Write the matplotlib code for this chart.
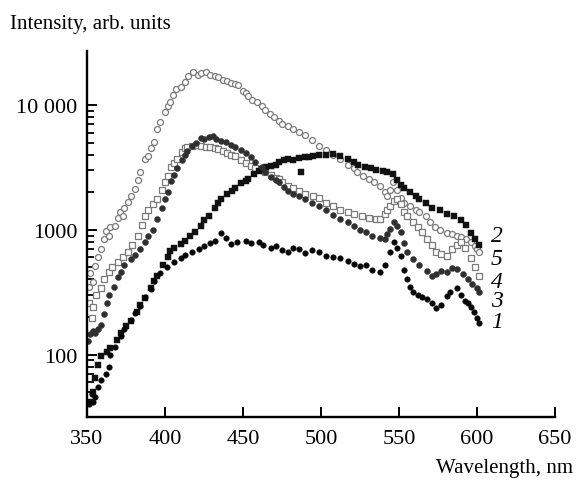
import matplotlib
matplotlib.use("Agg")
import matplotlib.pyplot as plt
from matplotlib.ticker import FixedLocator, NullFormatter

plt.rcParams['font.family'] = ['Liberation Serif', 'DejaVu Serif']

# ---- data (wavelength nm, intensity arb. units) ----
w1 = [351,353,354,355,357,359,362,364,365,368,372,374,378,381,384,387,391,393,397,401,406,410,413,417,422,425,429,432,436,439,442,446,452,455,460,463,468,471,475,479,482,486,490,494,499,503,508,512,517,521,525,529,533,538,541,544,547,549,551,553,555,557,559,562,565,568,571,574,577,581,583,587,590,592,594,596,598,600,601.5]
i1 = [40,48,42,46,55,62,70,80,100,115,140,160,190,215,245,290,335,390,450,500,550,590,630,660,700,740,780,820,950,860,770,800,820,780,800,760,720,740,690,670,720,700,650,690,660,620,600,590,560,530,510,520,480,460,520,670,800,720,620,480,400,350,320,300,290,280,260,235,250,295,320,340,300,270,260,240,220,195,180]

w2 = [352,354,355,357,359,363,365,369,372,375,378,382,384,387,391,393,395,399,402,403,406,410,413,416,419,423,425,428,432,434,436,440,443,445,449,452,453,457,460,462,465,468,471,473,476,479,482,486,487,490,492,495,499,503,508,512,517,521,524,528,532,535,540,542,546,549,551,553,557,561,563,567,571,576,581,585,590,593,596,599,601]
i2 = [42,50,65,82,98,105,112,130,150,170,185,220,250,285,340,390,430,520,600,680,720,770,820,900,960,1080,1200,1300,1500,1650,1780,1950,2050,2150,2350,2450,2550,2800,2950,3050,3200,3250,3300,3500,3600,3700,3650,3750,2900,3850,3800,3900,4000,3950,4050,3900,3700,3500,3300,3200,3100,3000,2950,2900,2800,2500,2300,2150,2000,1850,1750,1650,1500,1450,1350,1300,1200,1100,950,850,750]

w3 = [350.5,352,354,355,357,359,361,363,364,367,370,372,374,378,381,384,387,389,392,395,398,400,402,404,406,408,411,413,414,417,420,423,425,428,431,433,436,439,442,445,449,452,455,458,462,464,468,471,473,476,479,482,486,490,494,499,503,508,512,517,521,525,529,533,538,541,542,544,547,549,551,553,555,559,563,568,571,574,577,581,584,587,591,594,597,600,601.5]
i3 = [128,145,155,148,160,172,210,260,300,350,420,460,520,585,630,700,800,900,1000,1220,1500,1750,2000,2450,2750,3100,3600,3950,4250,4700,5000,5400,5300,5500,5650,5300,5150,5050,4750,4600,4400,4100,3850,3500,3200,2900,2650,2500,2400,2200,2050,1950,1870,1750,1650,1560,1450,1320,1220,1150,1080,1000,960,900,860,850,920,1010,1150,1080,960,780,670,580,520,470,430,440,470,460,490,485,440,400,370,340,315]

w4 = [351,353,354,356,359,361,364,366,370,373,376,379,383,385,387,389,392,395,398,400,402,404,406,408,411,413,414,417,420,423,426,429,432,434,437,440,442,445,449,452,455,458,462,464,468,471,473,475,479,482,486,490,495,499,503,508,512,517,521,526,531,535,538,541,542,544,547,549,551,553,555,559,562,565,568,571,574,577,581,584,587,590,592,596,599,601]
i4 = [260,195,240,300,340,400,460,500,550,600,670,760,900,1100,1300,1450,1600,1780,2100,2400,2700,3200,3450,3700,4200,4500,4650,4700,4750,4700,4650,4600,4550,4450,4300,4150,4000,3900,3650,3450,3250,3100,3000,2900,2750,2600,2550,2400,2250,2150,2050,1950,1870,1800,1650,1550,1450,1390,1330,1280,1250,1220,1220,1350,1450,1560,1700,1770,1600,1400,1290,1150,1050,960,850,750,670,640,620,700,760,800,720,590,500,430]

w5 = [351,352,354,355,357,359,361,362,364,365,368,370,371,373,374,376,378,381,383,384,387,389,391,393,395,397,400,402,403,405,407,410,413,415,418,421,423,426,429,432,434,437,440,442,445,447,450,452,453,456,459,462,464,467,470,473,475,479,482,486,490,494,499,503,508,512,517,521,523,527,531,534,538,541,542,544,546,549,551,553,557,561,563,567,570,573,576,581,584,587,590,593,596,599,600,601.5]
i5 = [350,450,380,510,600,700,850,980,900,1050,1080,1250,1390,1300,1500,1680,1850,2130,2500,2900,3700,3900,4500,5100,6400,7300,8800,9800,10600,12000,13500,14000,15400,17000,18500,17500,18000,18500,17500,17000,16800,16000,15500,15000,14800,14500,13000,12500,11800,11000,10500,9900,9200,8500,8000,7500,7100,6800,6400,6100,5700,5200,4700,4400,4000,3700,3300,3100,2900,2700,2550,2400,2250,2000,1850,2100,2400,2100,1800,1650,1550,1450,1390,1300,1150,1050,1000,950,920,900,880,850,800,740,700,660]

curve_labels = ['1', '2', '3', '4', '5']
label_y = [183, 895, 270, 383, 585]

x_ticks = [350, 400, 450, 500, 550, 600, 650]
y_ticks = [100, 1000, 10000]
y_ticklabels = ['100', '1000', '10 000']

# ---- figure ----
fig = plt.figure(figsize=(5.79, 4.81), dpi=100)
ax = fig.add_axes([87/579, 1-418/481, (555-87)/579, (418-52)/481])
ax.set_yscale('log')

ax.plot(w5, i5, 'o', ms=4.3, mfc='white', mec='#7a7a7a', mew=0.9, ls='none')
ax.plot(w4, i4, 's', ms=3.9, mfc='white', mec='#7a7a7a', mew=0.9, ls='none')
ax.plot(w2, i2, 's', ms=3.9, mfc='#111111', mec='#111111', mew=0.3, ls='none')
ax.plot(w3, i3, 'o', ms=4.3, mfc='#303030', mec='#303030', mew=0.3, ls='none')
ax.plot(w1, i1, 'o', ms=4.0, mfc='#050505', mec='#050505', mew=0.3, ls='none')

for lab, yv in zip(curve_labels, label_y):
    ax.text(609, yv, lab, fontsize=17, fontstyle='italic', ha='left', va='center')

ax.set_xlim(350, 650)
ax.set_ylim(31.6, 27100)
ax.set_xticks(x_ticks)
ax.set_xticklabels([str(t) for t in x_ticks])
ax.yaxis.set_major_locator(FixedLocator(y_ticks))
ax.set_yticklabels(y_ticklabels)
minors = [v * d for d in (10, 100, 1000) for v in range(2, 10) if 31.6 <= v * d <= 9000]
ax.yaxis.set_minor_locator(FixedLocator(minors))
ax.yaxis.set_minor_formatter(NullFormatter())

for s in ('top', 'right'):
    ax.spines[s].set_visible(False)
for s in ('left', 'bottom'):
    ax.spines[s].set_linewidth(1.7)

ax.tick_params(axis='both', which='major', direction='in', length=7.2, width=1.4,
               labelsize=16)
ax.tick_params(axis='x', which='major', pad=9)
ax.tick_params(axis='y', which='major', pad=7)
ax.tick_params(axis='y', which='minor', direction='in', length=5, width=1.3)
ax.tick_params(axis='x', which='minor', bottom=False)

fig.text(10/579, 1-25/481, 'Intensity, arb. units', fontsize=15, ha='left', va='center')
fig.text(573/579, 1-469/481, 'Wavelength, nm', fontsize=15, ha='right', va='center')

fig.savefig('out.png', dpi=100)
